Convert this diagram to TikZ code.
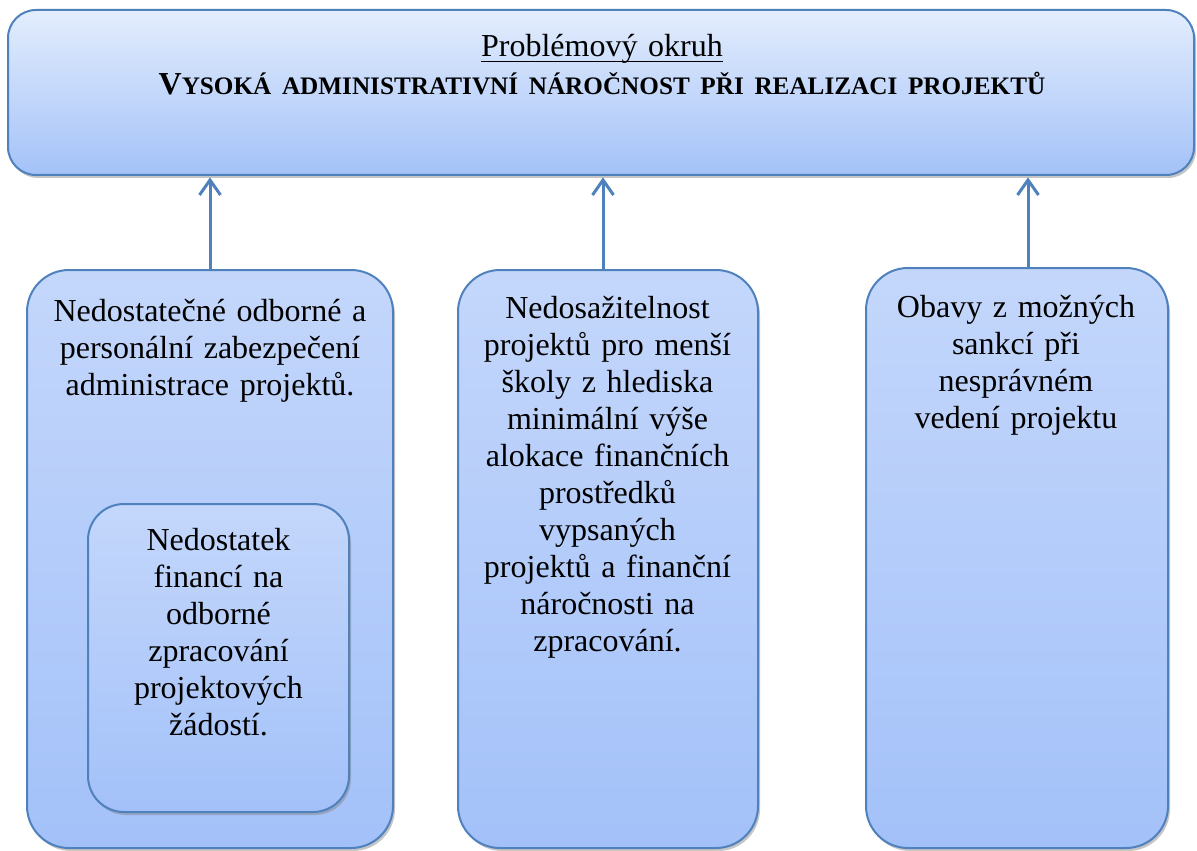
\documentclass[tikz,border=0pt]{standalone}
\usepackage{fontspec}
\setmainfont{Liberation Serif}
\usetikzlibrary{arrows.meta,shadows}
\newcommand\myul[1]{\setbox0\hbox{#1}\rlap{\rule[-2.7pt]{\wd0}{0.9pt}}\box0}
\definecolor{bord}{HTML}{4F81BD}
\definecolor{topA}{HTML}{E3EDFD}
\definecolor{topB}{HTML}{A4C2F8}
\definecolor{boxA}{HTML}{C4D7FB}
\definecolor{boxB}{HTML}{A3C1F9}
\tikzset{
  box/.style={draw=bord, line width=1pt, top color=boxA, bottom color=boxB,
    drop shadow={opacity=0.45, shadow xshift=1pt, shadow yshift=-1.5pt}},
  txt/.style={anchor=north, align=center, text width=190pt, inner sep=0pt,
    font=\fontsize{16}{18.5}\selectfont},
  arr/.style={draw=bord, line width=1.5pt, -{Straight Barb[length=7.5pt,width=10.5pt]}}
}
\begin{document}
\begin{tikzpicture}[x=0.5pt,y=-0.5pt]
\useasboundingbox (0,0) rectangle (1197,850);
\fill[white] (0,0) rectangle (1197,850);
% top box
\node[box, minimum width=593pt, minimum height=82.5pt, rounded corners=14pt,
      top color=topA, bottom color=topB] (T) at (601,92.5) {};
\node[txt, text width=560pt, font=\fontsize{16}{19}\selectfont] (Tt) at (602,30)
  {\strut\myul{Problémový okruh}\\
   {\bfseries V\fontsize{12.6}{19}\selectfont YSOKÁ ADMINISTRATIVNÍ NÁROČNOST PŘI REALIZACI PROJEKTŮ}};
% left box
\node[box, minimum width=183pt, minimum height=289pt, rounded corners=21pt] (L) at (210,559) {};
\node[txt] (Lt) at (210,295)
  {\strut Nedostatečné odborné a\\personální zabezpečení\\administrace projektů.};
% inner box
\node[box, minimum width=130.5pt, minimum height=154pt, rounded corners=18pt] (I) at (218.5,658) {};
\node[txt] (It) at (218.5,524)
  {\strut Nedostatek\\financí na\\odborné\\zpracování\\projektových\\žádostí.};
% middle box
\node[box, minimum width=150pt, minimum height=289pt, rounded corners=21pt] (M) at (608,559) {};
\node[txt] (Mt) at (607.5,292)
  {\strut Nedosažitelnost\\projektů pro menší\\školy z hlediska\\minimální výše\\alokace finančních\\prostředků\\vypsaných\\projektů a finanční\\náročnosti na\\zpracování.};
% right box
\node[box, minimum width=151pt, minimum height=290pt, rounded corners=21pt] (R) at (1017,558) {};
\node[txt] (Rt) at (1016,291)
  {\strut Obavy z možných\\sankcí při\\nesprávném\\vedení projektu};
% arrows
\draw[arr] (L.north) -- ([yshift=-0.7pt]L.north |- T.south);
\draw[arr] ([xshift=-2.5pt]M.north) -- ([xshift=-2.5pt,yshift=-0.7pt]M.north |- T.south);
\draw[arr] ([xshift=5.5pt]R.north) -- ([xshift=5.5pt,yshift=-0.7pt]R.north |- T.south);
\end{tikzpicture}
\end{document}
